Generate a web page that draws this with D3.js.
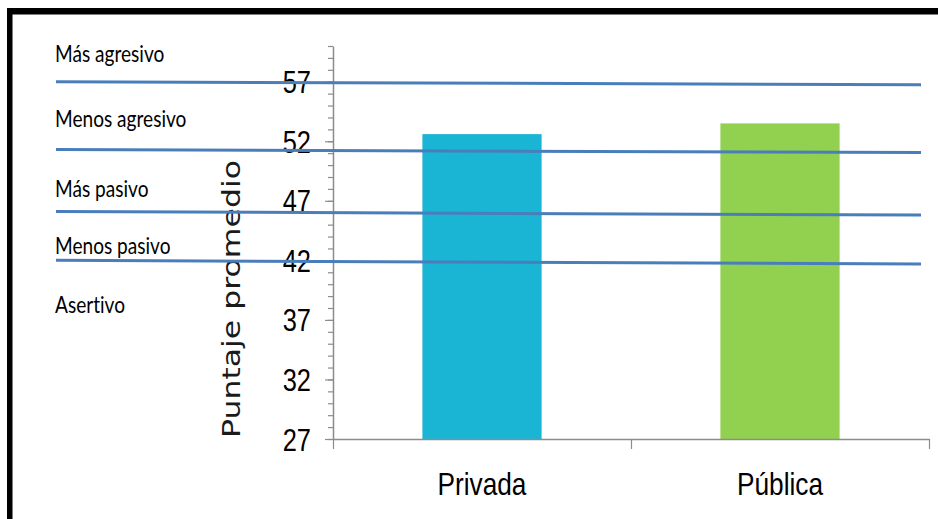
<!DOCTYPE html>
<html>
<head>
<meta charset="utf-8">
<script src="https://cdn.jsdelivr.net/npm/d3@7"></script>
<style>
  html, body { margin: 0; padding: 0; background: #ffffff; }
  svg { display: block; }
</style>
</head>
<body>
<svg id="chart" width="938" height="519"></svg>
<script>
// Average score per school type
const categories = ["Privada", "Pública"];
const scores = [52.6, 53.5];
const barColors = ["#1AB4D4", "#92D050"];

// Score axis
const yMin = 27;
const yMax = 60;
const majorTicks = [27, 32, 37, 42, 47, 52, 57];
const minorTicks = d3.range(27, 61, 1);

// Behaviour bands and the cut lines between them (score at left and right end)
const zoneNames = ["Más agresivo", "Menos agresivo", "Más pasivo", "Menos pasivo", "Asertivo"];
const cutStart = [57.0, 51.3, 46.1, 42.0];
const cutEnd = [56.75, 51.05, 45.8, 41.7];

const yTitle = "Puntaje promedio";

// ---- layout ----
const W = 938, H = 519;
const plot = { left: 333, right: 929, top: 46, bottom: 439 };
const narrow = 0.82;            // horizontal squeeze for the narrow axis font
const zoneLabelScore = [58.65, 53.2, 47.3, 42.53, 37.58];
const cutX0 = 56, cutX1 = 921;

const svg = d3.select("#chart");

const y = d3.scaleLinear().domain([yMin, yMax]).range([plot.bottom, plot.top]);
const x = d3.scaleBand().domain(categories)
  .range([plot.left, plot.right]).paddingInner(0.6).paddingOuter(0.3);
const xEdge = d3.scaleLinear().domain([0, categories.length]).range([plot.left, plot.right]);

// frame (top and left edges)
svg.append("rect").attr("x", 7).attr("y", 8).attr("width", W - 7).attr("height", 6.5).attr("fill", "#000");
svg.append("rect").attr("x", 7).attr("y", 8).attr("width", 5.5).attr("height", H - 8).attr("fill", "#000");

// bars
svg.append("g").selectAll("rect").data(categories).join("rect")
  .attr("x", d => x(d))
  .attr("width", x.bandwidth())
  .attr("y", (d, i) => y(scores[i]))
  .attr("height", (d, i) => y(yMin) - y(scores[i]))
  .attr("fill", (d, i) => barColors[i]);

const axisColor = "#8c8c8c";

// minor ticks
const gMinor = svg.append("g").attr("transform", `translate(${plot.left},0)`)
  .call(d3.axisLeft(y).tickValues(minorTicks).tickSize(5).tickSizeOuter(0).tickFormat(""));
gMinor.select(".domain").remove();
gMinor.selectAll("line").attr("stroke", axisColor).attr("stroke-width", 1.2);

// major ticks and labels
const gY = svg.append("g").attr("transform", `translate(${plot.left},0)`)
  .call(d3.axisLeft(y).tickValues(majorTicks).tickSize(8).tickSizeOuter(0).tickFormat(d3.format("d")));
gY.select(".domain").attr("stroke", axisColor).attr("stroke-width", 1.5);
gY.selectAll("line").attr("stroke", axisColor).attr("stroke-width", 1.2);
gY.selectAll("text")
  .attr("x", null).attr("dy", null)
  .attr("transform", "translate(-22, 11) scale(" + narrow + ",1)")
  .attr("text-anchor", "end")
  .attr("fill", "#000")
  .style("font-family", "'Liberation Sans', Arial, sans-serif")
  .style("font-size", "31px");

// category axis with ticks at band edges
const gX = svg.append("g").attr("transform", `translate(0,${plot.bottom})`)
  .call(d3.axisBottom(xEdge).tickValues(d3.range(0, categories.length + 1)).tickSize(10).tickSizeOuter(0).tickFormat(""));
gX.select(".domain").attr("stroke", axisColor).attr("stroke-width", 1.5);
gX.selectAll("line").attr("stroke", axisColor).attr("stroke-width", 1.2);

svg.append("g").selectAll("text").data(categories).join("text")
  .attr("transform", d => `translate(${x(d) + x.bandwidth() / 2}, 495) scale(${narrow},1)`)
  .attr("text-anchor", "middle")
  .attr("fill", "#000")
  .style("font-family", "'Liberation Sans', Arial, sans-serif")
  .style("font-size", "32px")
  .text(d => d);

// y title
svg.append("text")
  .attr("transform", `translate(240, 299) rotate(-90)`)
  .attr("text-anchor", "middle")
  .attr("fill", "#1a1a1a")
  .attr("textLength", 278)
  .attr("lengthAdjust", "spacingAndGlyphs")
  .style("font-family", "'DejaVu Sans', sans-serif")
  .style("font-size", "25px")
  .text(yTitle);

// zone labels
svg.append("g").selectAll("text").data(zoneNames).join("text")
  .attr("transform", (d, i) => `translate(55, ${y(zoneLabelScore[i])}) scale(0.83,1)`)
  .attr("fill", "#000")
  .style("font-family", "Lato, 'Open Sans', sans-serif")
  .style("font-size", "23px")
  .style("font-variant-ligatures", "none")
  .text(d => d);

// cut lines between bands
svg.append("g").selectAll("line").data(cutStart).join("line")
  .attr("x1", cutX0).attr("x2", cutX1)
  .attr("y1", d => y(d))
  .attr("y2", (d, i) => y(cutEnd[i]))
  .attr("stroke", "#4A7EBB")
  .attr("stroke-width", 3);
</script>
</body>
</html>
